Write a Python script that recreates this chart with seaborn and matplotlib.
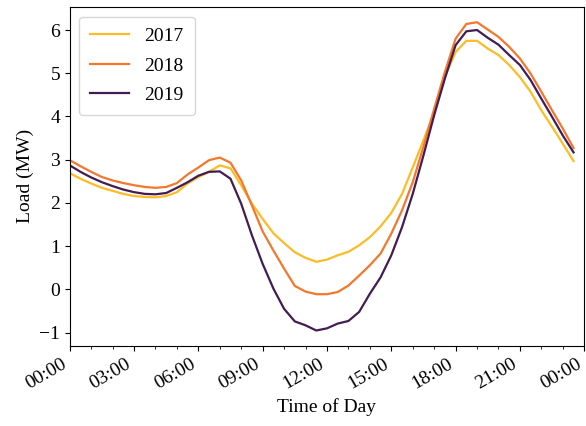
import datetime as dt

import matplotlib
matplotlib.use("Agg")
import matplotlib.pyplot as plt
import matplotlib.dates as mdates
import numpy as np
import pandas as pd
import seaborn as sns

plt.rcParams["font.family"] = ["Liberation Serif", "DejaVu Serif"]

# Half-hourly average load profile, 00:00 .. 23:30
load_2017 = [2.69, 2.56, 2.45, 2.35, 2.28, 2.21, 2.16, 2.14, 2.13, 2.16,
             2.25, 2.45, 2.60, 2.72, 2.87, 2.80, 2.41, 1.98, 1.63, 1.30,
             1.07, 0.86, 0.73, 0.64, 0.69, 0.79, 0.87, 1.02, 1.21, 1.46,
             1.77, 2.21, 2.82, 3.45, 4.10, 4.92, 5.49, 5.75, 5.75, 5.57,
             5.42, 5.19, 4.91, 4.57, 4.14, 3.76, 3.37, 2.97]
load_2018 = [2.99, 2.85, 2.72, 2.60, 2.52, 2.46, 2.41, 2.37, 2.35, 2.37,
             2.46, 2.66, 2.82, 2.99, 3.05, 2.93, 2.52, 1.94, 1.34, 0.90,
             0.48, 0.08, -0.05, -0.11, -0.11, -0.06, 0.09, 0.32, 0.56, 0.83,
             1.29, 1.83, 2.48, 3.30, 4.18, 5.03, 5.80, 6.14, 6.18, 6.01,
             5.84, 5.61, 5.34, 4.99, 4.57, 4.14, 3.72, 3.27]
load_2019 = [2.87, 2.72, 2.59, 2.48, 2.39, 2.31, 2.25, 2.21, 2.20, 2.23,
             2.35, 2.48, 2.63, 2.72, 2.73, 2.56, 1.98, 1.25, 0.59, 0.02,
             -0.45, -0.74, -0.83, -0.95, -0.90, -0.79, -0.73, -0.52, -0.10, 0.28,
             0.79, 1.44, 2.21, 3.10, 4.03, 4.88, 5.65, 5.97, 6.00, 5.82,
             5.66, 5.42, 5.19, 4.84, 4.41, 3.99, 3.56, 3.17]
years = ["2017", "2018", "2019"]
colors = ["#FBBC26", "#F3772C", "#421C52"]

day_start = pd.Timestamp("2000-01-01 00:00")
times = pd.date_range(day_start, periods=48, freq="30min")

frames = []
for year, values in zip(years, [load_2017, load_2018, load_2019]):
    frames.append(pd.DataFrame({"time": times, "load": values, "year": year}))
df = pd.concat(frames, ignore_index=True)

fig, ax = plt.subplots(figsize=(5.86, 4.26), dpi=100)
fig.subplots_adjust(left=0.119, right=0.997, top=0.984, bottom=0.188)

sns.lineplot(data=df, x="time", y="load", hue="year", hue_order=years,
             palette=colors, linewidth=1.6, ax=ax)

ax.set_xlim(day_start, day_start + pd.Timedelta(hours=24))
ax.xaxis.set_major_locator(mdates.HourLocator(interval=3))
ax.xaxis.set_minor_locator(mdates.HourLocator(interval=1))
ax.xaxis.set_major_formatter(mdates.DateFormatter("%H:%M"))
for lbl in ax.get_xticklabels():
    lbl.set_rotation(30)
    lbl.set_ha("right")

ax.tick_params(axis="both", labelsize=14)
ax.set_xlabel("Time of Day", fontsize=14)
ax.set_ylabel("Load (MW)", fontsize=14)

leg = ax.legend(loc="upper left", fontsize=14, title=None,
                labelspacing=0.62, borderpad=0.55)

fig.savefig("out.png", dpi=100)
